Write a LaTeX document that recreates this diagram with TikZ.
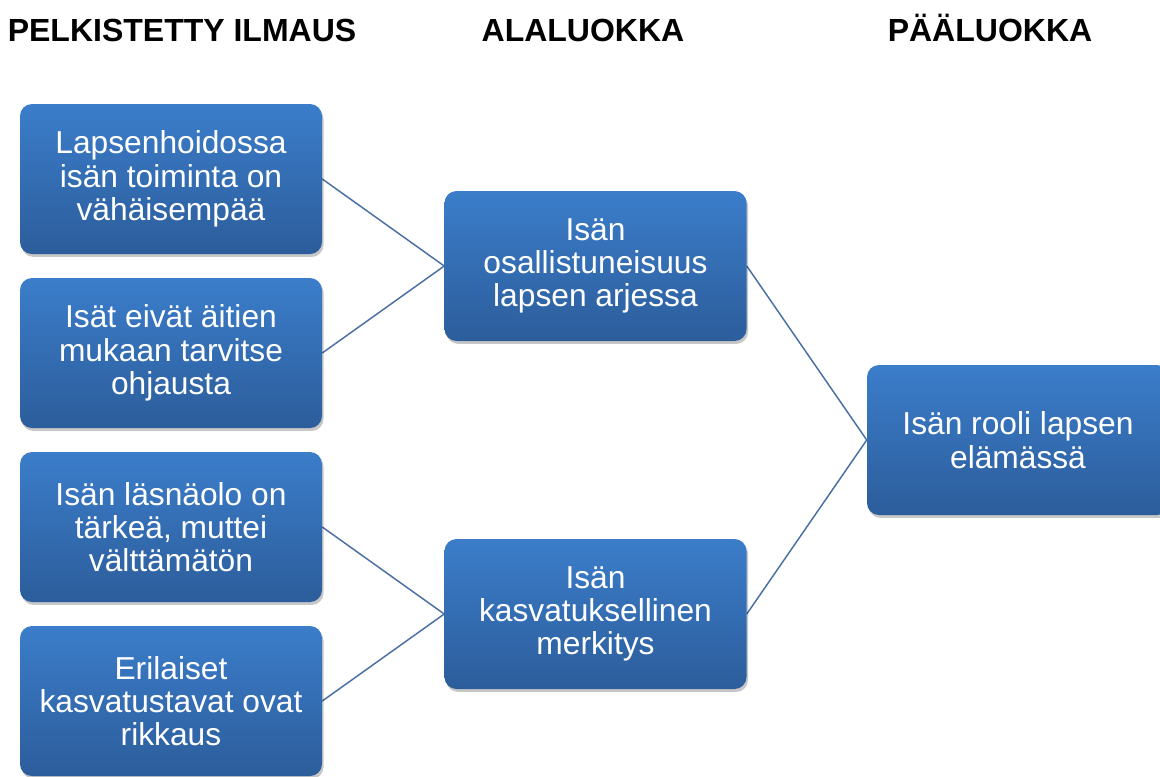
\documentclass[tikz,border=0pt]{standalone}
\usepackage{fontspec}
\setmainfont{Liberation Sans}
\usetikzlibrary{shadows,backgrounds}
\definecolor{boxtop}{HTML}{3B7DCA}
\definecolor{boxbot}{HTML}{2C5D9B}
\definecolor{linkcol}{HTML}{4A6FA5}
\tikzset{
  px/.style={x=0.75pt,y=-0.75pt},
  card/.style={rounded corners=9pt, top color=boxtop, bottom color=boxbot,
    draw=none, minimum width=226.5pt, minimum height=112.5pt, inner sep=0pt,
    align=center, text=white, font=\fontsize{23.8pt}{25pt}\selectfont,
    drop shadow={shadow xshift=1.2pt, shadow yshift=-2.2pt, opacity=0.22, fill=black}},
  head/.style={anchor=base, font=\bfseries\fontsize{24pt}{28pt}\selectfont, text=black, inner sep=0pt},
  link/.style={draw=linkcol, line width=1.1pt}
}
\begin{document}
\begin{tikzpicture}[px]
\useasboundingbox (0,0) rectangle (1160,776);
\clip (0,0) rectangle (1160,776);

\node[head] (h1) at (182,41) {PELKISTETTY ILMAUS};
\node[head] (h2) at (583,41) {ALALUOKKA};
\node[head] (h3) at (990,41) {PÄÄLUOKKA};

\node[card] (l1) at (171,179) {Lapsenhoidossa\\isän toiminta on\\vähäisempää};
\node[card] (l2) at (171,353) {Isät eivät äitien\\mukaan tarvitse\\ohjausta};
\node[card] (l3) at (171,527) {Isän läsnäolo on\\tärkeä, muttei\\välttämätön};
\node[card] (l4) at (171,701) {Erilaiset\\kasvatustavat ovat\\rikkaus};

\node[card] (m1) at (595.5,266) {Isän\\osallistuneisuus\\lapsen arjessa};
\node[card] (m2) at (595.5,614) {Isän\\kasvatuksellinen\\merkitys};

\node[card] (r) at (1018,440) {Isän rooli lapsen\\elämässä};

\begin{scope}[on background layer]
\fill[white] (0,0) rectangle (1160,776);
\draw[link] (l1.east) -- (m1.west);
\draw[link] (l2.east) -- (m1.west);
\draw[link] (l3.east) -- (m2.west);
\draw[link] (l4.east) -- (m2.west);
\draw[link] (m1.east) -- (r.west);
\draw[link] (m2.east) -- (r.west);
\end{scope}
\end{tikzpicture}
\end{document}
